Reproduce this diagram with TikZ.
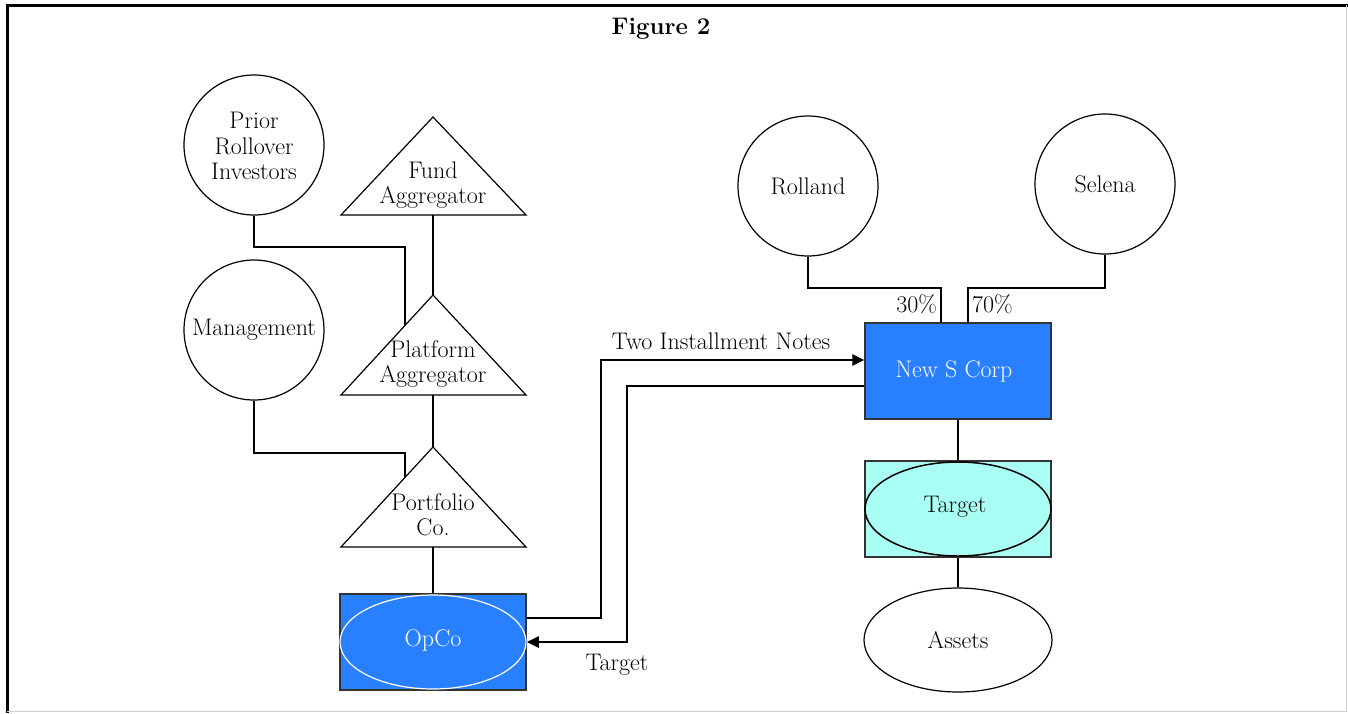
\documentclass[tikz,border=0pt]{standalone}
\usepackage{fontspec}
\setmainfont{Latin Modern Roman}
\usetikzlibrary{shapes.geometric,arrows.meta}
\definecolor{corpblue}{RGB}{41,128,255}
\definecolor{tgtcyan}{RGB}{170,255,244}
\definecolor{boxline}{RGB}{51,51,51}
\tikzset{
  lbl/.style={font=\fontsize{24}{25.5}\selectfont,align=center,inner sep=0pt},
  holder/.style={circle,draw,line width=1.2pt,minimum size=140pt,inner sep=0pt},
  link/.style={line width=1.2pt},
  notearrow/.style={line width=2.5pt,-{Triangle[length=12pt,width=11pt]}},
  corpbox/.style={rectangle,draw=boxline,line width=1.5pt,minimum width=186pt,minimum height=96pt,inner sep=0pt}
}
\begin{document}
\begin{tikzpicture}[x=1pt,y=-1pt]
\useasboundingbox (0,0) rectangle (1348,713);
\draw [line width=3pt] (7,713) -- (7,5) -- (1348,5);
\draw [gray!35,line width=1pt] (1346,5) -- (1346,711) -- (7,711);

\node (title) at (661,29) [font=\fontsize{24}{27}\selectfont\bfseries] {Figure 2};

\node (prior) at (254,145) [holder] {};
\node (priortxt) at (254,146) [lbl] {Prior\\Rollover\\Investors};
\node (mgmt) at (254,330) [holder] {};
\node (mgmttxt) at (254,330) [lbl] {Management};

\draw [link] (433,117) -- (526,215) -- (341,215) -- cycle;
\draw [link] (433,295) -- (526,395) -- (341,395) -- cycle;
\draw [link] (433,447) -- (526,547) -- (341,547) -- cycle;
\coordinate (fundbot) at (433,215);
\coordinate (plattop) at (433,295);
\coordinate (platbot) at (433,395);
\coordinate (platleft) at (405,325);
\coordinate (porttop) at (433,447);
\coordinate (portbot) at (433,547);
\coordinate (portleft) at (405,477);
\node (fund) at (433,185) [lbl] {Fund\\Aggregator};
\node (platform) at (433,364) [lbl] {Platform\\Aggregator};
\node (portfolio) at (433,515) [lbl] {Portfolio\\Co.};

\draw [link] (fundbot) -- (plattop);
\draw [link] (platbot) -- (porttop);
\draw [link] (prior.south) |- (405,247) -- (platleft);
\draw [link] (mgmt.south) |- (405,453) -- (portleft);

\node (opco) at (433,642) [corpbox,fill=corpblue] {};
\node (opcoel) at (433,642) [ellipse,draw=white,line width=1.2pt,minimum width=186pt,minimum height=94pt,inner sep=0pt] {};
\node (opcotxt) at (433,640) [lbl,text=white] {OpCo};
\draw [link] (portbot) -- (opco.north);

\node (rolland) at (808,186) [holder] {};
\node (rollandtxt) at (808,186) [lbl] {Rolland};
\node (selena) at (1105,184) [holder] {};
\node (selenatxt) at (1105,184) [lbl] {Selena};

\node (newco) at (958,371) [corpbox,fill=corpblue] {};
\node (newcotxt) at (954,371) [lbl,text=white] {New S Corp};
\draw [link] (rolland.south) |- (941,288) -- (941,323);
\draw [link] (selena.south) |- (968,288) -- (968,323);
\node (pctr) at (937,304) [lbl,anchor=east] {30\%};
\node (pcts) at (972,304) [lbl,anchor=west] {70\%};

\node (target) at (958,509) [corpbox,fill=tgtcyan] {};
\node (targetel) at (958,509) [ellipse,draw,line width=1.5pt,minimum width=186pt,minimum height=94pt,inner sep=0pt] {};
\node (targettxt) at (955,507) [lbl] {Target};
\draw [link] (newco.south) -- (target.north);

\node (assets) at (958,640) [ellipse,draw,line width=1.2pt,minimum width=188pt,minimum height=104pt,inner sep=0pt] {};
\node (assetstxt) at (958,640) [lbl] {Assets};
\draw [link] (target.south) -- (assets.north);

\draw [notearrow] ([yshift=24pt]opco.east) -| (601,360) -- ([yshift=11pt]newco.west);
\draw [notearrow] ([yshift=-15pt]newco.west) -| (627,642) -- (opco.east);
\node (notes) at (721,341) [lbl] {Two Installment Notes};
\node (tgtlbl) at (617,665) [lbl] {Target};

\end{tikzpicture}
\end{document}
